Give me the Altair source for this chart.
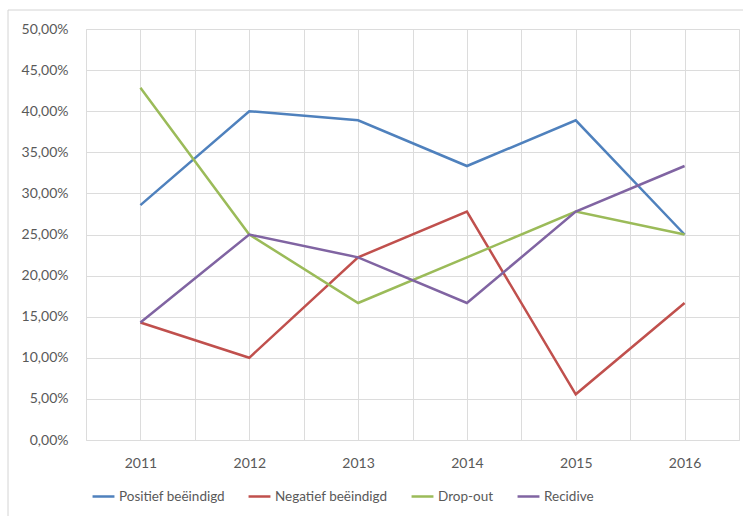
import altair as alt
import pandas as pd

years = [2011, 2012, 2013, 2014, 2015, 2016]
series_names = ["Positief beëindigd", "Negatief beëindigd", "Drop-out", "Recidive"]
positief = [0.2857, 0.40, 0.3889, 0.3333, 0.3889, 0.25]
negatief = [0.1429, 0.10, 0.2222, 0.2778, 0.0556, 0.1667]
dropout = [0.4286, 0.25, 0.1667, 0.2222, 0.2778, 0.25]
recidive = [0.1429, 0.25, 0.2222, 0.1667, 0.2778, 0.3333]
colors = ["#4F81BD", "#C0504D", "#9BBB59", "#8064A2"]

rows = []
for name, vals in zip(series_names, [positief, negatief, dropout, recidive]):
    for y, v in zip(years, vals):
        rows.append({"Jaar": y, "Serie": name, "Waarde": v})
df = pd.DataFrame(rows)

x_ticks = [2010.5 + 0.5 * i for i in range(13)]
y_ticks = [i * 0.05 for i in range(11)]

lines = alt.Chart(df).mark_line(strokeWidth=2.5).encode(
    x=alt.X("Jaar:Q", scale=alt.Scale(domain=[2010.5, 2016.5], nice=False, zero=False),
            axis=alt.Axis(values=x_ticks, title=None, grid=True, ticks=False, domain=False,
                          labelExpr="datum.value % 1 == 0 ? datum.value : ''",
                          labelPadding=16, labelFontSize=14, labelColor="#595959",
                          labelFont="Lato", gridColor="#dcdcdc")),
    y=alt.Y("Waarde:Q", scale=alt.Scale(domain=[0, 0.5], nice=False),
            axis=alt.Axis(values=y_ticks, title=None, grid=True, ticks=False, domain=False,
                          labelExpr="replace(format(datum.value, '.2%'), '.', ',')",
                          labelPadding=18, labelFontSize=14, labelColor="#595959",
                          labelFont="Lato", gridColor="#dcdcdc")),
    color=alt.Color("Serie:N", sort=series_names,
                    scale=alt.Scale(domain=series_names, range=colors),
                    legend=alt.Legend(title=None, orient="none", direction="horizontal",
                                      legendX=5, legendY=455, symbolType="stroke",
                                      symbolSize=480, symbolStrokeWidth=2.5,
                                      labelFontSize=13.5, labelColor="#595959", labelFont="Lato",
                                      columnPadding=18, labelOffset=3)),
)

border = alt.Chart(pd.DataFrame({"a": [0]})).mark_rect(
    fill=None, stroke="#d4d4d4", strokeWidth=1, clip=False
).encode(
    x=alt.value(-78), x2=alt.value(700), y=alt.value(-19), y2=alt.value(600)
)

chart = alt.layer(border, lines).properties(
    width=653, height=411,
    autosize=alt.AutoSizeParams(type="none"),
    padding={"left": 86, "top": 29, "right": 4, "bottom": 76},
).configure_view(
    fill="#f2f2f2", stroke=None
).configure(background="white")

chart.save("out.html", embed_options={"renderer": "svg", "actions": False})
